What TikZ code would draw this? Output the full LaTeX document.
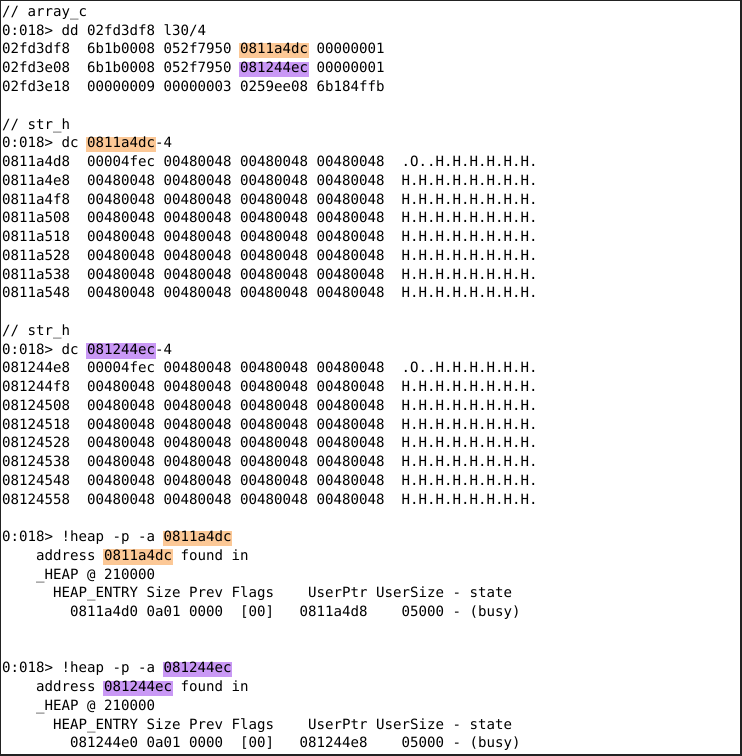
\documentclass[tikz,border=0pt]{standalone}
\usepackage{fontspec}
\usepackage{tikz}
\newfontfamily\codefont{DejaVu Sans Mono}
\definecolor{hlpeach}{RGB}{252,200,150}
\definecolor{hllilac}{RGB}{201,152,245}
\definecolor{framegray}{RGB}{34,34,34}
\newcommand{\rowy}[1]{16.5+18.75*#1}
\tikzset{
  codeline/.style={anchor=base west, inner sep=0pt, text=black,
    font={\codefont\fontsize{14.12bp}{18.75bp}\selectfont\frenchspacing}},
}

\begin{document}
\begin{tikzpicture}[x=1bp,y=-1bp]
      \useasboundingbox (0,0) rectangle (742,756);
      \draw[line width=1.5bp, framegray] (0.75,0.75) rectangle (740.75,754.75);
      % marked pointers, drawn before the text
      \foreach \r/\c/\s in {2/28/peach,3/28/lilac,7/10/peach,18/10/lilac,
                            28/19/peach,29/12/peach,35/19/lilac,36/12/lilac}
        \fill[fill=hl\s] ({2+\c*8.5-1},{\rowy{\r}-11}) rectangle ({2+(\c+8)*8.5+0.5},{\rowy{\r}+4.5});
      % array_c
      \node[codeline] (arrhead) at (2,{\rowy{0}}) {// array\_c};
      \node[codeline] (arrcmd) at (2,{\rowy{1}}) {0:018> dd 02fd3df8 l30/4};
      \node[codeline] (arr1) at (2,{\rowy{2}}) {02fd3df8~~6b1b0008 052f7950 0811a4dc 00000001};
      \node[codeline] (arr2) at (2,{\rowy{3}}) {02fd3e08~~6b1b0008 052f7950 081244ec 00000001};
      \node[codeline] (arr3) at (2,{\rowy{4}}) {02fd3e18~~00000009 00000003 0259ee08 6b184ffb};
      % first str_h
      \node[codeline] (strAhead) at (2,{\rowy{6}}) {// str\_h};
      \node[codeline] (strAcmd) at (2,{\rowy{7}}) {0:018> dc 0811a4dc-4};
      \node[codeline] (strA8) at (2,{\rowy{8}}) {0811a4d8~~00004fec 00480048 00480048 00480048~~.O..H.H.H.H.H.H.};
      \foreach \i/\addr in {9/0811a4e8,10/0811a4f8,11/0811a508,12/0811a518,
                            13/0811a528,14/0811a538,15/0811a548}
        \node[codeline] (strA\i) at (2,{\rowy{\i}}) {\addr~~00480048 00480048 00480048 00480048~~H.H.H.H.H.H.H.H.};
      % second str_h
      \node[codeline] (strBhead) at (2,{\rowy{17}}) {// str\_h};
      \node[codeline] (strBcmd) at (2,{\rowy{18}}) {0:018> dc 081244ec-4};
      \node[codeline] (strB19) at (2,{\rowy{19}}) {081244e8~~00004fec 00480048 00480048 00480048~~.O..H.H.H.H.H.H.};
      \foreach \i/\addr in {20/081244f8,21/08124508,22/08124518,23/08124528,
                            24/08124538,25/08124548,26/08124558}
        \node[codeline] (strB\i) at (2,{\rowy{\i}}) {\addr~~00480048 00480048 00480048 00480048~~H.H.H.H.H.H.H.H.};
      % heap lookups
      \node[codeline] (heapAcmd) at (2,{\rowy{28}}) {0:018> !heap -p -a 0811a4dc};
      \node[codeline] (heapAaddr) at (2,{\rowy{29}}) {~~~~address 0811a4dc found in};
      \node[codeline] (heapAheap) at (2,{\rowy{30}}) {~~~~\_HEAP @ 210000};
      \node[codeline] (heapAcols) at (2,{\rowy{31}}) {~~~~~~HEAP\_ENTRY Size Prev Flags~~~~UserPtr UserSize - state};
      \node[codeline] (heapAentry) at (2,{\rowy{32}}) {~~~~~~~~0811a4d0 0a01 0000~~[00]~~~0811a4d8~~~~05000 - (busy)};
      \node[codeline] (heapBcmd) at (2,{\rowy{35}}) {0:018> !heap -p -a 081244ec};
      \node[codeline] (heapBaddr) at (2,{\rowy{36}}) {~~~~address 081244ec found in};
      \node[codeline] (heapBheap) at (2,{\rowy{37}}) {~~~~\_HEAP @ 210000};
      \node[codeline] (heapBcols) at (2,{\rowy{38}}) {~~~~~~HEAP\_ENTRY Size Prev Flags~~~~UserPtr UserSize - state};
      \node[codeline] (heapBentry) at (2,{\rowy{39}}) {~~~~~~~~081244e0 0a01 0000~~[00]~~~081244e8~~~~05000 - (busy)};
    \end{tikzpicture}
\end{document}
